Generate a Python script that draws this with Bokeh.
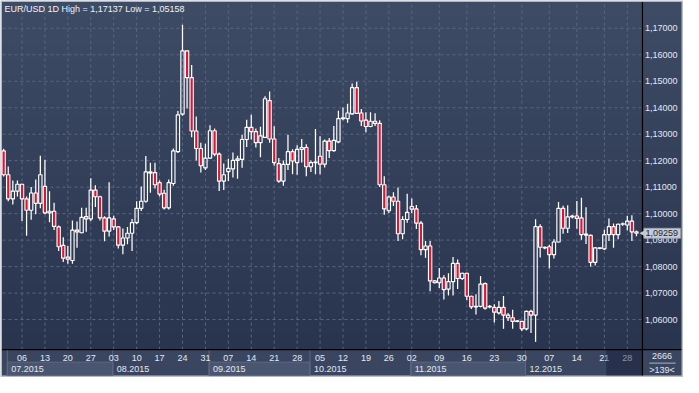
import numpy as np
from bokeh.plotting import figure
from bokeh.models import ColumnDataSource, Range1d
from bokeh.core.properties import value
from bokeh.embed import file_html
from bokeh.resources import INLINE

# ---------------- data ----------------
opens = [1.1237,1.1147,1.1056,1.1085,1.1111,1.1056,1.1013,1.1078,1.1039,1.1103,
 1.1003,1.1009,1.0950,1.0880,1.0836,1.0823,1.0938,1.0928,1.0989,1.0980,
 1.1089,1.1064,1.0984,1.0934,1.0980,1.0950,1.0881,1.0908,1.0926,1.0966,
 1.1020,1.1047,1.1158,1.1155,1.1117,1.1077,1.1022,1.1114,1.1234,1.1376,
 1.1615,1.1514,1.1312,1.1246,1.1173,1.1210,1.1313,1.1225,1.1123,1.1159,
 1.1169,1.1201,1.1205,1.1280,1.1326,1.1310,1.1268,1.1288,1.1427,1.1282,
 1.1189,1.1123,1.1186,1.1234,1.1193,1.1243,1.1250,1.1177,1.1193,1.1217,
 1.1187,1.1274,1.1238,1.1271,1.1359,1.1359,1.1377,1.1476,1.1380,1.1353,
 1.1329,1.1349,1.1341,1.1109,1.1011,1.1063,1.1047,1.0924,1.0978,1.1027,
 1.1018,1.0964,1.0864,1.0878,1.0746,1.0739,1.0757,1.0715,1.0743,1.0812,
 1.0755,1.0775,1.0688,1.0648,1.0650,1.0736,1.0648,1.0646,1.0625,1.0646,
 1.0617,1.0607,1.0593,1.0593,1.0565,1.0631,1.0617,1.0951,1.0873,1.0875,
 1.0845,1.0893,1.1020,1.0945,1.0988,1.0991,1.0984,1.0919,1.0918,1.0816,
 1.0869,1.0867,1.0921,1.0951,1.0921,1.0960,1.0957,1.0972,1.0931]

highs = [1.1245,1.1178,1.1125,1.1125,1.1113,1.1065,1.1101,1.1129,1.1219,1.1204,
 1.1085,1.1041,1.0955,1.0911,1.0878,1.0974,1.0970,1.1022,1.1022,1.1134,
 1.1107,1.1068,1.0990,1.1119,1.0992,1.0952,1.0944,1.0950,1.0980,1.1047,
 1.1103,1.1218,1.1192,1.1192,1.1125,1.1090,1.1129,1.1246,1.1388,1.17137,
 1.1616,1.1561,1.1367,1.1268,1.1264,1.1334,1.1322,1.1231,1.1189,1.1207,
 1.1231,1.1219,1.1298,1.1355,1.1374,1.1322,1.1328,1.1443,1.1461,1.1330,
 1.1210,1.1201,1.1298,1.1243,1.1258,1.1282,1.1262,1.1201,1.1320,1.1292,
 1.1280,1.1286,1.1331,1.1389,1.1401,1.1415,1.1492,1.1498,1.1395,1.1383,
 1.1383,1.1379,1.1353,1.1141,1.1069,1.1081,1.1099,1.0990,1.1075,1.1057,
 1.1033,1.0972,1.0897,1.0897,1.0748,1.0795,1.0767,1.0775,1.0836,1.0827,
 1.0777,1.0777,1.0690,1.0696,1.0764,1.0740,1.0655,1.0658,1.0670,1.0689,
 1.0625,1.0637,1.0597,1.0595,1.0634,1.0637,1.0979,1.0960,1.0876,1.0883,
 1.0903,1.1044,1.1030,1.1032,1.0996,1.1048,1.1060,1.1024,1.0921,1.0873,
 1.0873,1.0939,1.0982,1.0963,1.0963,1.0967,1.0991,1.0994,1.0936]

lows = [1.1140,1.1047,1.1035,1.1065,1.0972,1.0917,1.0977,1.0998,1.1020,1.0998,
 1.0968,1.0938,1.0859,1.0817,1.0811,1.0811,1.0871,1.0926,1.0932,1.0972,
 1.1025,1.0974,1.0896,1.0914,1.0938,1.0868,1.0847,1.0884,1.0859,1.0960,
 1.1010,1.1041,1.1079,1.1095,1.1065,1.1016,1.1016,1.1105,1.1229,1.1370,
 1.1397,1.1289,1.1201,1.1155,1.1165,1.1207,1.1217,1.1086,1.1089,1.1123,
 1.1137,1.1132,1.1173,1.1252,1.1280,1.1250,1.1213,1.1286,1.1268,1.1181,
 1.1117,1.1105,1.1165,1.1149,1.1147,1.1193,1.1141,1.1157,1.1149,1.1149,
 1.1174,1.1210,1.1234,1.1266,1.1353,1.1343,1.1374,1.1377,1.1331,1.1307,
 1.1326,1.1331,1.1101,1.0996,1.1002,1.1029,1.0897,1.0903,1.0966,1.1002,
 1.0942,1.0843,1.0833,1.0707,1.0736,1.0719,1.0676,1.0691,1.0691,1.0715,
 1.0749,1.0674,1.0640,1.0619,1.0646,1.0637,1.0643,1.0589,1.0619,1.0565,
 1.0595,1.0565,1.0590,1.0557,1.0559,1.0549,1.05158,1.0834,1.0866,1.0793,
 1.0831,1.0891,1.0924,1.0927,1.0982,1.0943,1.0901,1.0885,1.0800,1.0804,
 1.0866,1.0863,1.0897,1.0871,1.0903,1.0954,1.0936,1.0897,1.0915]

closes = [1.1147,1.1056,1.1085,1.1111,1.1056,1.1013,1.1078,1.1039,1.1147,1.1003,
 1.1009,1.0952,1.0875,1.0832,1.0828,1.0938,1.0931,1.0986,1.0980,1.1089,
 1.1064,1.0984,1.0934,1.0984,1.0950,1.0881,1.0908,1.0926,1.0966,1.1020,
 1.1047,1.1158,1.1153,1.1109,1.1074,1.1022,1.1117,1.1237,1.1373,1.1615,
 1.1514,1.1312,1.1246,1.1181,1.1210,1.1313,1.1225,1.1123,1.1147,1.1171,
 1.1201,1.1207,1.1280,1.1326,1.1310,1.1268,1.1294,1.1434,1.1282,1.1193,
 1.1123,1.1186,1.1234,1.1199,1.1243,1.1250,1.1177,1.1193,1.1195,1.1187,
 1.1274,1.1238,1.1277,1.1359,1.1362,1.1380,1.1476,1.1379,1.1350,1.1329,
 1.1349,1.1341,1.1109,1.1018,1.1063,1.1047,1.0924,1.0978,1.1005,1.1017,
 1.0964,1.0864,1.0878,1.0746,1.0739,1.0757,1.0713,1.0743,1.0812,1.0755,
 1.0775,1.0688,1.0648,1.0650,1.0734,1.0643,1.0650,1.0628,1.0646,1.0617,
 1.0607,1.0593,1.0595,1.0565,1.0631,1.0617,1.0951,1.0873,1.0871,1.0845,
 1.0893,1.1020,1.0945,1.0988,1.0991,1.0982,1.0921,1.0923,1.0816,1.0871,
 1.0871,1.0921,1.0951,1.0921,1.0960,1.0962,1.0972,1.0931,1.09259]

week_ticks = [4, 9, 14, 19, 24, 29, 34, 39, 44, 49, 54, 59, 64, 69, 74, 79, 84,
              89, 95, 101, 107, 113, 119, 125, 131, 136]
week_labels = ["06", "13", "20", "27", "03", "10", "17", "24", "31", "07", "14", "21", "28",
               "05", "12", "19", "26", "02", "09", "16", "23", "30", "07", "14", "21", "28"]
month_starts = [1, 24, 45, 67, 89, 114]
month_labels = ["07.2015", "08.2015", "09.2015", "10.2015", "11.2015", "12.2015"]
price_ticks = [1.06, 1.07, 1.08, 1.09, 1.10, 1.11, 1.12, 1.13, 1.14, 1.15, 1.16, 1.17]
price_labels = ["1,06000", "1,07000", "1,08000", "1,09000", "1,10000", "1,11000",
                "1,12000", "1,13000", "1,14000", "1,15000", "1,16000", "1,17000"]
title_text = "EUR/USD 1D High = 1,17137 Low = 1,05158"
last_price = 1.09259
last_price_text = "1,09259"
bars_total_text = "2666"
bars_shown_text = ">139<"
current_week_start = 131.4

# ---------------- layout (reference-pixel frame -> data space) ----------------
W, H = 683, 377
REF_W, REF_H = 699, 393
X0, DX = 3.23, 4.693          # pixel of bar 0, pixels per bar (reference)
Y0, DY = 29.0, 2760.0         # pixel of 1.17, pixels per price unit (reference)


def X(px):
    return (px - X0) / DX


def Y(py):
    return 1.17 - (py - Y0) / DY


PX = 1.0 / DX
PY = 1.0 / DY

FONT = "Liberation Sans"
FS = "9px"
TXT = "#e2e8f2"
RED = "#e6102f"
BAND = "#3a4660"
GRID = "#5a6782"

PLOT_L, PLOT_R, PLOT_T, PLOT_B = X(2), X(657), Y(2), Y(364)
PANEL_R, BAND_B = X(697), Y(391)

n = len(opens)
xr = Range1d(X(0), X(REF_W))
yr = Range1d(Y(REF_H), Y(0))

p = figure(width=W, height=H, output_backend="svg", toolbar_location=None,
           x_range=xr, y_range=yr, title=None, min_border=0,
           x_axis_location=None, y_axis_location=None)
p.grid.visible = False
p.outline_line_color = None
p.background_fill_color = "#b9bfca"
p.border_fill_color = "#b9bfca"

# gradient background (plot + price panel)
N = 256
t = np.linspace(0.0, 1.0, N)
top_rgb = np.array([63, 76, 102], dtype=float)
bot_rgb = np.array([41, 52, 78], dtype=float)
rgb = bot_rgb + (top_rgb - bot_rgb) * t[:, None]
img = np.empty((N, 1), dtype=np.uint32)
view = img.view(dtype=np.uint8).reshape((N, 1, 4))
view[:, 0, 0] = rgb[:, 0].astype(np.uint8)
view[:, 0, 1] = rgb[:, 1].astype(np.uint8)
view[:, 0, 2] = rgb[:, 2].astype(np.uint8)
view[:, 0, 3] = 255
x_img0, y_img0 = X(1.5), PLOT_B
p.image_rgba(image=[img], x=x_img0, y=y_img0, dw=PANEL_R - x_img0, dh=Y(1.5) - y_img0)

# date band
p.quad(left=x_img0, right=PANEL_R, top=PLOT_B, bottom=BAND_B, fill_color=BAND, line_color=None)

# grid lines
p.segment(x0=[PLOT_L] * len(price_ticks), x1=[PLOT_R] * len(price_ticks),
          y0=price_ticks, y1=price_ticks, line_color=GRID, line_dash="3 3", line_width=1)
p.segment(x0=week_ticks, x1=week_ticks, y0=[PLOT_B] * len(week_ticks),
          y1=[PLOT_T] * len(week_ticks), line_color=GRID, line_dash="3 3", line_width=1)

# month boxes, separators and labels
bounds = [m - 0.2 for m in month_starts] + [PLOT_R]
for k in range(len(month_labels)):
    if k % 2 == 0:
        p.quad(left=bounds[k], right=bounds[k + 1], top=Y(377), bottom=BAND_B,
               fill_color="#4a5670", line_color="#5d6984", line_width=1)
p.segment(x0=bounds[:-1], x1=bounds[:-1], y0=[PLOT_B] * len(month_starts),
          y1=[BAND_B] * len(month_starts), line_color="#5d6984", line_width=1)
p.text(x=[m - 0.2 + 4 * PX for m in month_starts], y=[Y(384.5)] * len(month_starts),
       text=month_labels, text_font=value(FONT), text_font_size=FS, text_color=TXT,
       text_baseline="middle", text_align="left")

# week labels
p.text(x=week_ticks, y=[Y(372.5)] * len(week_ticks), text=week_labels,
       text_font=value(FONT), text_font_size=FS, text_color=TXT,
       text_baseline="middle", text_align="center")

# price scale labels
p.text(x=[X(659.5)] * len(price_ticks), y=price_ticks, text=price_labels,
       text_font=value(FONT), text_font_size=FS, text_color=TXT,
       text_baseline="middle", text_align="left")

# candles
top = [max(o, c) for o, c in zip(opens, closes)]
bot = [min(o, c) for o, c in zip(opens, closes)]
fa = [1.0 if c < o else 0.0 for o, c in zip(opens, closes)]
src = ColumnDataSource(dict(i=list(range(n)), o=opens, h=highs, l=lows, c=closes,
                            top=top, bot=bot, fa=fa))
p.segment(x0="i", y0="h", x1="i", y1="top", source=src, line_color="white", line_width=1.25)
p.segment(x0="i", y0="bot", x1="i", y1="l", source=src, line_color="white", line_width=1.25)
p.vbar(x="i", width=0.72, top="top", bottom="bot", source=src, fill_color=RED,
       fill_alpha="fa", line_color="white", line_width=1.15)

# current-week shading over the date band
p.quad(left=current_week_start, right=PLOT_R, top=PLOT_B, bottom=BAND_B,
       fill_color="#0e1630", fill_alpha=0.42, line_color=None)

# black separator lines
p.segment(x0=[PLOT_R, x_img0], x1=[PLOT_R, PANEL_R], y0=[Y(1.5), PLOT_B], y1=[BAND_B, PLOT_B],
          line_color="black", line_width=1.2)

# last price tag
p.quad(left=X(658.5), right=X(696), top=last_price + 5.2 * PY, bottom=last_price - 5.2 * PY,
       fill_color="#c6cbd5", line_color="#9aa2b0", line_width=0.8)
p.scatter(x=[X(657.5)], y=[last_price], marker="triangle", angle=np.pi / 2, size=6,
          fill_color="#c6cbd5", line_color=None)
p.text(x=[X(660)], y=[last_price], text=[last_price_text], text_font=value(FONT),
       text_font_size=FS, text_color="#1e2536", text_baseline="middle", text_align="left")

# corner counters
p.text(x=[X(677), X(677)], y=[Y(371), Y(385)], text=[bars_total_text, bars_shown_text],
       text_font=value(FONT), text_font_size=FS, text_color=TXT,
       text_baseline="middle", text_align="center")
p.segment(x0=[X(664)], x1=[X(691)], y0=[Y(378)], y1=[Y(378)], line_color="#aab3c4", line_width=1)

# title
p.text(x=[X(4)], y=[Y(8.5)], text=[title_text], text_font=value(FONT), text_font_size=FS,
       text_color="#eef2f8", text_baseline="middle", text_align="left")

open("out.html", "w").write(file_html(p, INLINE))
